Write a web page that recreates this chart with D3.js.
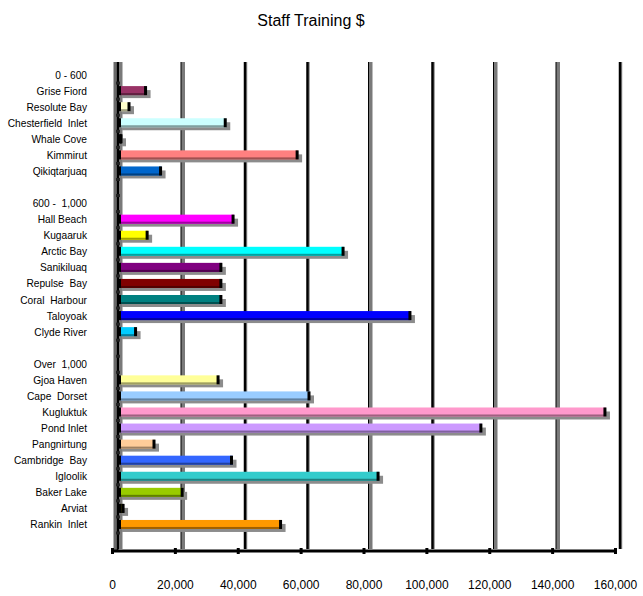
<!DOCTYPE html>
<html>
<head>
<meta charset="utf-8">
<script src="https://cdn.jsdelivr.net/npm/d3@7"></script>
<style>
  body { margin: 0; background: #fff; }
  text { font-family: "Liberation Sans", Arial, sans-serif; fill: #000; }
</style>
</head>
<body>
<div id="chart"></div>
<script>
// rows from top to bottom, group headers and blank spacer rows have no value
var labels = ["0 - 600", "Grise Fiord", "Resolute Bay", "Chesterfield  Inlet", "Whale Cove", "Kimmirut", "Qikiqtarjuaq", "",
  "600 -  1,000", "Hall Beach", "Kugaaruk", "Arctic Bay", "Sanikiluaq", "Repulse  Bay", "Coral  Harbour", "Taloyoak", "Clyde River", "",
  "Over  1,000", "Gjoa Haven", "Cape  Dorset", "Kugluktuk", "Pond Inlet", "Pangnirtung", "Cambridge  Bay", "Igloolik", "Baker Lake", "Arviat", "Rankin  Inlet"];
var values = [null, 8500, 3200, 34000, 500, 57000, 13300, null,
  null, 36500, 9000, 71700, 32600, 32600, 32600, 93100, 5300, null,
  null, 31700, 60800, 155500, 115800, 11200, 36000, 82900, 20200, 1300, 51700];
var colors = [null, "#993366", "#FFFFCC", "#CCFFFF", "#222222", "#FF8080", "#0066CC", null,
  null, "#FF00FF", "#FFFF00", "#00FFFF", "#800080", "#800000", "#008080", "#0000FF", "#00CCFF", null,
  null, "#FFFF99", "#99CCFF", "#FF99CC", "#CC99FF", "#FFCC99", "#3366FF", "#33CCCC", "#99CC00", "#333300", "#FF9900"];
var tickValues = [0, 20000, 40000, 60000, 80000, 100000, 120000, 140000, 160000];
var gridStyle = ["grey", "grey", "black", "black", "grey", "black", "grey", "grey", "black"];

var W = 643, H = 596;
var svg = d3.select("#chart").append("svg")
  .attr("width", W).attr("height", H);

svg.append("text")
  .attr("x", 311).attr("y", 26)
  .attr("text-anchor", "middle")
  .attr("font-size", "16px")
  .text("Staff Training $");

// back wall scale (gridlines, bars) and floor scale (tick labels)
var xWall = d3.scaleLinear().domain([0, 160000]).range([120, 620]);
var xFloor = d3.scaleLinear().domain([0, 160000]).range([112, 615]);
var y = d3.scaleBand().domain(d3.range(labels.length)).range([67, 533]);
var plotTop = 62, floorY = 551;

// gridlines
tickValues.forEach(function(t, i) {
  var gx = xWall(t);
  if (gridStyle[i] == "grey") {
    svg.append("line").attr("x1", gx + 0.5).attr("x2", gx + 0.5).attr("y1", plotTop).attr("y2", floorY - 2)
      .attr("stroke", "#7a7a7a").attr("stroke-width", 4);
    svg.append("line").attr("x1", gx - 1.5).attr("x2", gx - 1.5).attr("y1", plotTop).attr("y2", floorY - 2)
      .attr("stroke", "#000").attr("stroke-width", 1);
  } else {
    svg.append("line").attr("x1", gx + 1.5).attr("x2", gx + 1.5).attr("y1", plotTop).attr("y2", floorY - 2)
      .attr("stroke", "#8a8a8a").attr("stroke-width", 1.5);
    svg.append("line").attr("x1", gx).attr("x2", gx).attr("y1", plotTop).attr("y2", floorY - 2)
      .attr("stroke", "#000").attr("stroke-width", 2.5);
  }
});

// left axis
svg.append("line").attr("x1", 115).attr("x2", 115).attr("y1", plotTop).attr("y2", floorY)
  .attr("stroke", "#6a6a6a").attr("stroke-width", 3);
svg.append("line").attr("x1", 117.5).attr("x2", 117.5).attr("y1", plotTop).attr("y2", floorY)
  .attr("stroke", "#000").attr("stroke-width", 2);
labels.forEach(function(l, i) {
  svg.append("rect").attr("x", 116).attr("y", y(i) + y.step() - 1.5)
    .attr("width", 4).attr("height", 3).attr("fill", "#222");
});

// bars
var g = svg.append("g");
labels.forEach(function(l, i) {
  if (values[i] == null) return;
  var yc = y(i) + y.bandwidth() / 2;
  var x0 = xWall(0), x1 = xWall(values[i]);
  var w = Math.max(x1 - x0, 2);
  g.append("rect").attr("x", x0 + 2).attr("y", yc - 1).attr("width", w + 2).attr("height", 8)
    .attr("fill", "#8c8c8c");
  g.append("rect").attr("x", x0).attr("y", yc - 5).attr("width", w).attr("height", 9)
    .attr("fill", colors[i]);
  g.append("rect").attr("x", x0).attr("y", yc + 2).attr("width", w).attr("height", 2)
    .attr("fill", d3.color(colors[i]).darker(1.3));
  g.append("rect").attr("x", x0 + w - 2.5).attr("y", yc - 5).attr("width", 3).attr("height", 9)
    .attr("fill", "#000");
  g.append("rect").attr("x", x0 - 1).attr("y", yc - 5).attr("width", 2).attr("height", 9)
    .attr("fill", "#000");
});

// category labels
svg.append("g").selectAll("text")
  .data(labels)
  .join("text")
  .attr("x", 87)
  .attr("y", function(d, i) { return y(i) + y.bandwidth() / 2 + 3.5; })
  .attr("text-anchor", "end")
  .attr("font-size", "10.2px")
  .attr("xml:space", "preserve")
  .style("white-space", "pre")
  .text(function(d) { return d; });

// floor axis
svg.append("line").attr("x1", 112).attr("x2", 617).attr("y1", floorY).attr("y2", floorY)
  .attr("stroke", "#000").attr("stroke-width", 3);
var xAxis = svg.append("g")
  .attr("transform", "translate(0," + floorY + ")")
  .call(d3.axisBottom(xFloor).tickValues(tickValues).tickFormat(d3.format(",")).tickSize(3).tickPadding(26));
xAxis.select(".domain").remove();
xAxis.selectAll(".tick line").attr("stroke", "#000").attr("stroke-width", 3).attr("y1", -3);
xAxis.selectAll("text").attr("font-size", "12px")
  .attr("font-family", "Liberation Sans, Arial, sans-serif");
</script>
</body>
</html>
